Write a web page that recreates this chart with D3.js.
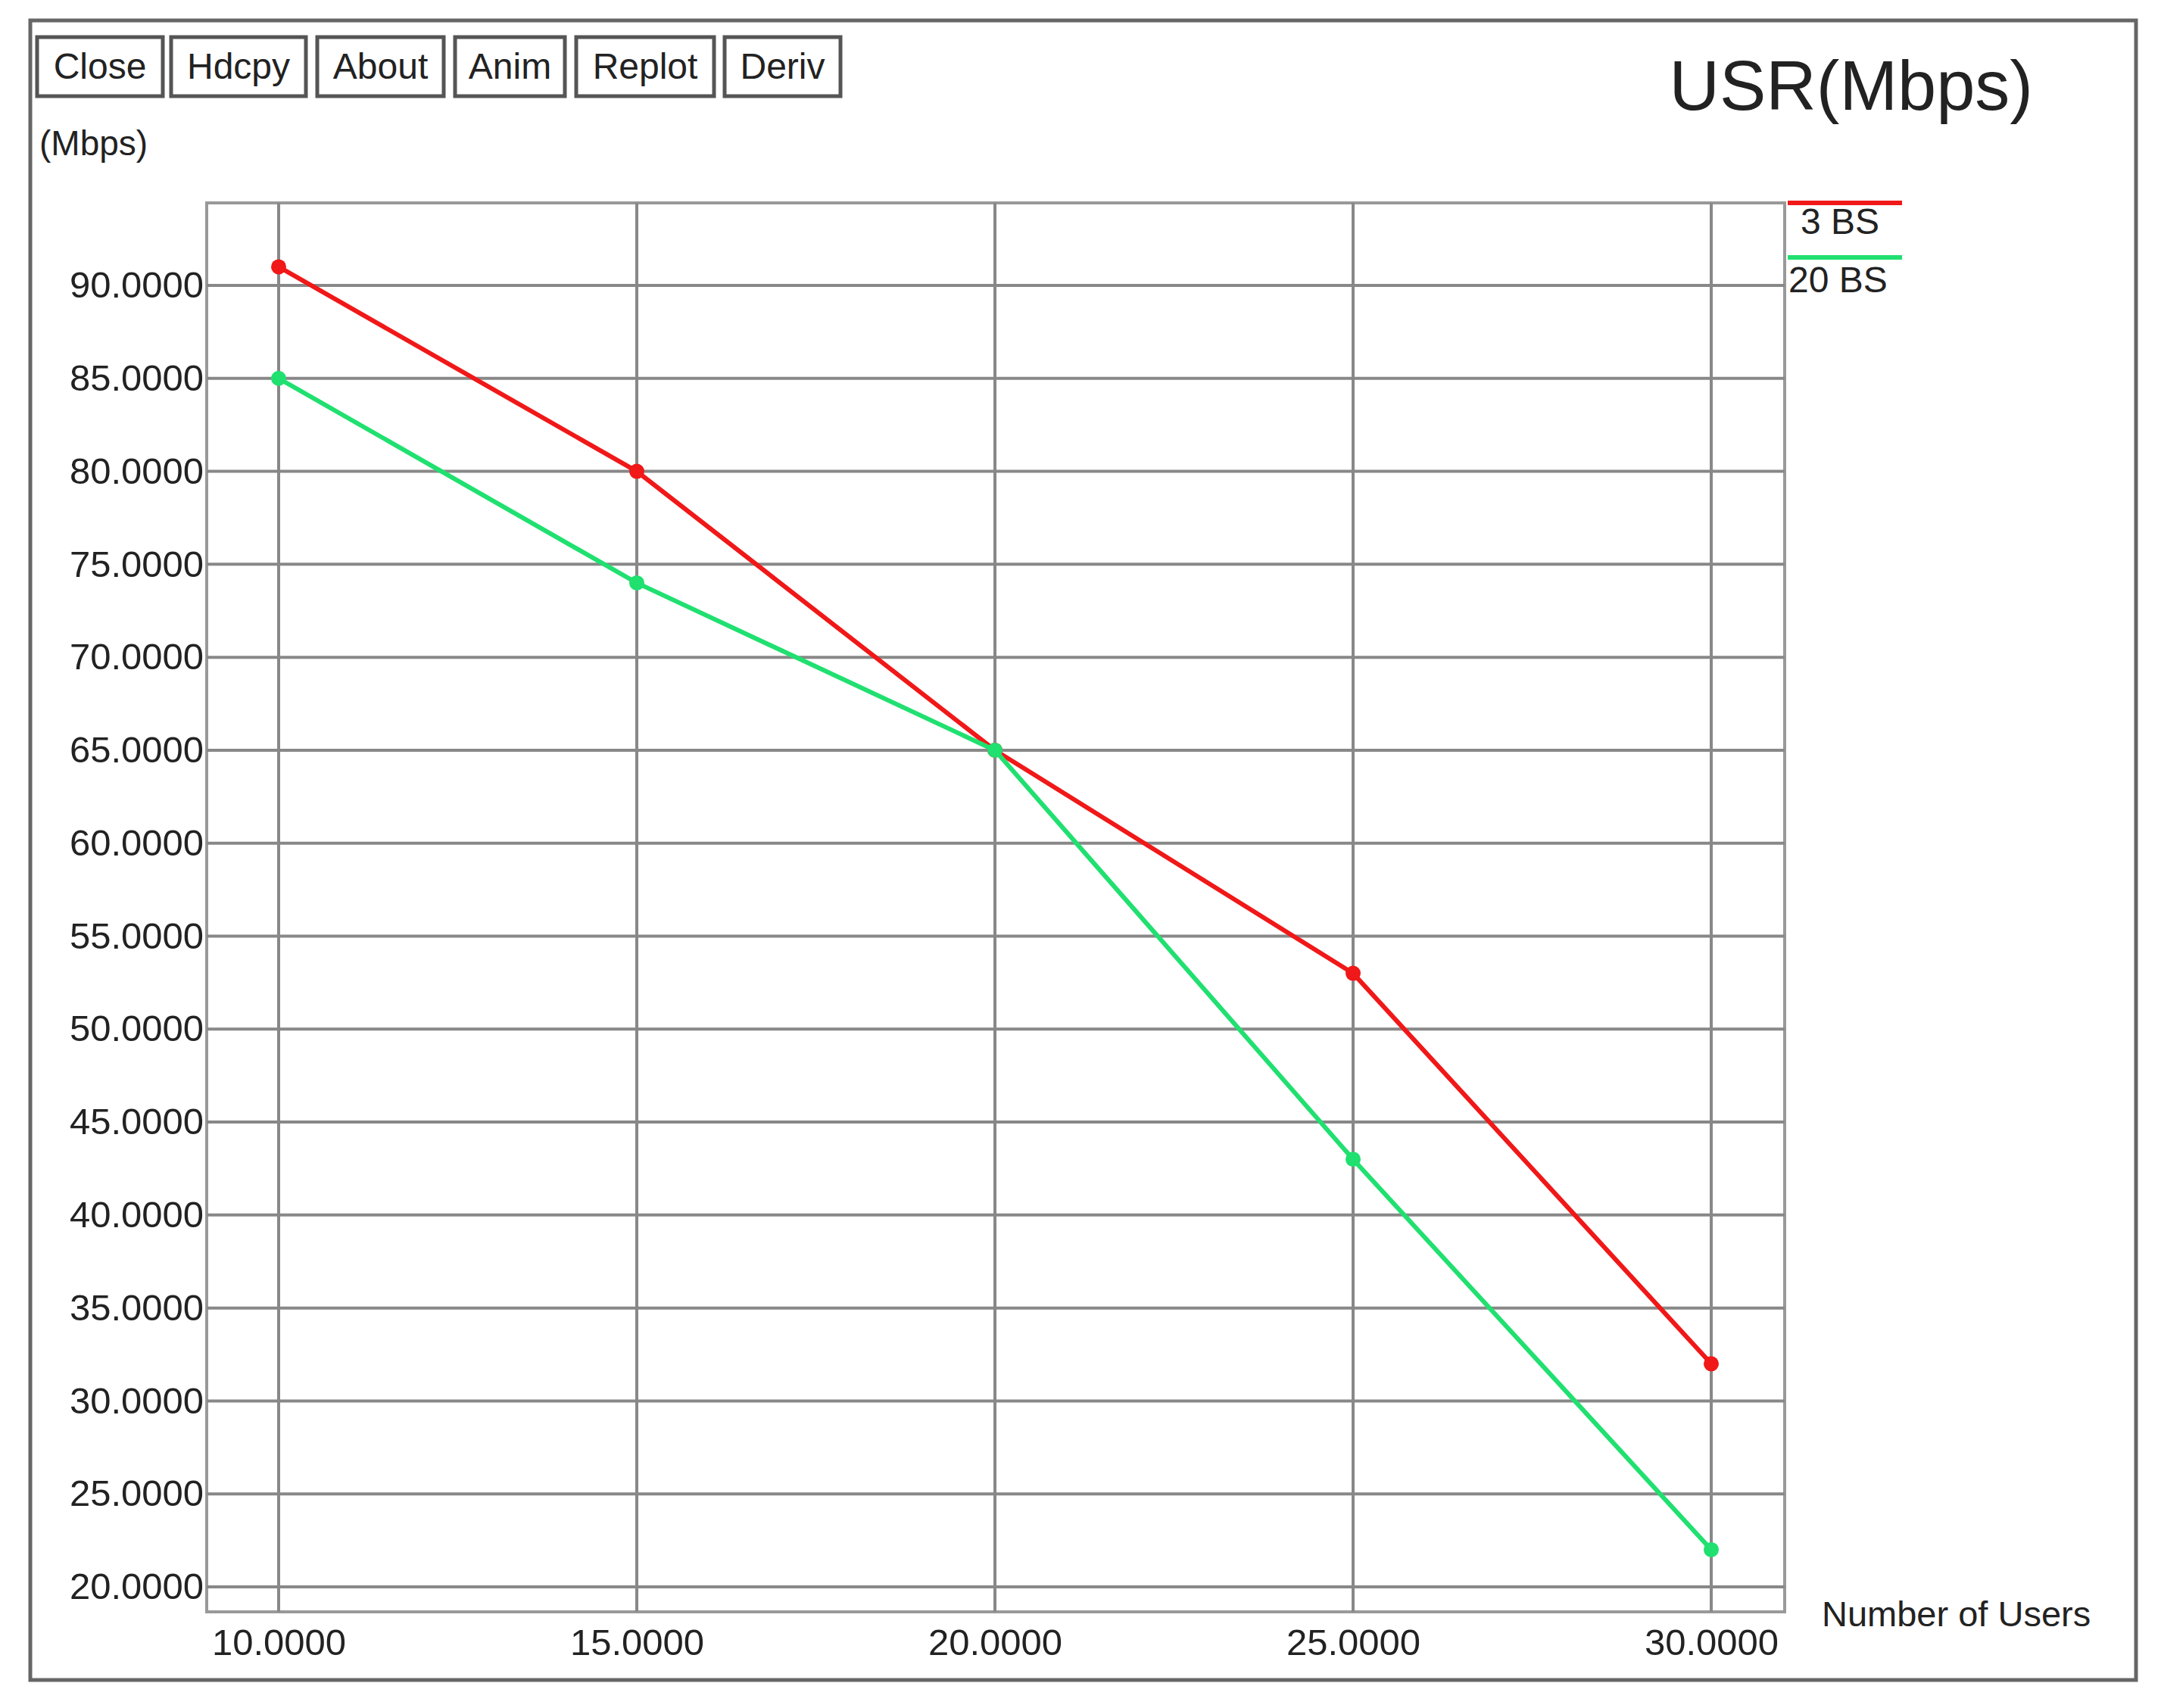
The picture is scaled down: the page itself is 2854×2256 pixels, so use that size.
<!DOCTYPE html>
<html>
<head>
<meta charset="utf-8">
<script src="https://cdn.jsdelivr.net/npm/d3@7"></script>
<style>
  body { margin: 0; background: #fff; }
  text { font-family: "Liberation Sans", Arial, sans-serif; fill: #222; }
</style>
</head>
<body>
<svg id="chart"></svg>
<script>
// data
const users = [10, 15, 20, 25, 30];
const bs3 = [91, 80, 65, 53, 32];
const bs20 = [85, 74, 65, 43, 22];
const seriesNames = ["3 BS", "20 BS"];
const seriesColors = ["#f01818", "#20e070"];
const yTicks = [20, 25, 30, 35, 40, 45, 50, 55, 60, 65, 70, 75, 80, 85, 90];
const xTicks = [10, 15, 20, 25, 30];
const buttons = ["Close", "Hdcpy", "About", "Anim", "Replot", "Deriv"];

const W = 2854, H = 2256;
const svg = d3.select("#chart").attr("width", W).attr("height", H);

// outer frame
svg.append("rect").attr("x", 40).attr("y", 27).attr("width", 2781).attr("height", 2192)
  .attr("fill", "none").attr("stroke", "#666").attr("stroke-width", 5);

// buttons
const btnX = [49, 226, 419, 601, 761, 957];
const btnW = [166, 178, 167, 145, 182, 153];
buttons.forEach((b, i) => {
  svg.append("rect").attr("x", btnX[i]).attr("y", 49).attr("width", btnW[i]).attr("height", 78)
    .attr("fill", "#fff").attr("stroke", "#555").attr("stroke-width", 5);
  svg.append("text").attr("x", btnX[i] + btnW[i] / 2).attr("y", 104)
    .attr("text-anchor", "middle").style("font-size", "48px").text(b);
});

svg.append("text").attr("x", 2685).attr("y", 145).attr("text-anchor", "end")
  .style("font-size", "92px").text("USR(Mbps)");
svg.append("text").attr("x", 52).attr("y", 205).style("font-size", "46px").text("(Mbps)");

// plot area
const L = 273, R = 2357, T = 268, B = 2129;
const x = d3.scaleLinear().domain([10, 30]).range([368, 2260]);
const y = d3.scaleLinear().domain([20, 90]).range([2096, 377]);

svg.append("rect").attr("x", L).attr("y", T).attr("width", R - L).attr("height", B - T)
  .attr("fill", "none").attr("stroke", "#999").attr("stroke-width", 4);

// grid
svg.append("g").selectAll("line").data(yTicks).join("line")
  .attr("x1", L).attr("x2", R).attr("y1", d => y(d)).attr("y2", d => y(d))
  .attr("stroke", "#888").attr("stroke-width", 4);
svg.append("g").selectAll("line").data(xTicks).join("line")
  .attr("y1", T).attr("y2", B).attr("x1", d => x(d)).attr("x2", d => x(d))
  .attr("stroke", "#888").attr("stroke-width", 4);

// axes labels
const yAxis = d3.axisLeft(y).tickValues(yTicks).tickSize(0).tickPadding(4)
  .tickFormat(d3.format(".4f"));
const gy = svg.append("g").attr("transform", `translate(${L},0)`).call(yAxis);
gy.select(".domain").remove();
gy.selectAll("text").style("font-size", "49px").style("font-family", "Liberation Sans, Arial, sans-serif").attr("fill", "#222");

const xAxis = d3.axisBottom(x).tickValues(xTicks).tickSize(0).tickPadding(22)
  .tickFormat(d3.format(".4f"));
const gx = svg.append("g").attr("transform", `translate(0,${B})`).call(xAxis);
gx.select(".domain").remove();
gx.selectAll("text").style("font-size", "49px").style("font-family", "Liberation Sans, Arial, sans-serif").attr("fill", "#222");

svg.append("text").attr("x", 2406).attr("y", 2148).style("font-size", "47px").text("Number of Users");

// series
const line = d3.line().x((d, i) => x(users[i])).y(d => y(d));
[bs3, bs20].forEach((s, k) => {
  svg.append("path").attr("d", line(s)).attr("fill", "none")
    .attr("stroke", seriesColors[k]).attr("stroke-width", 6);
  svg.append("g").selectAll("circle").data(s).join("circle")
    .attr("cx", (d, i) => x(users[i])).attr("cy", d => y(d)).attr("r", 10)
    .attr("fill", seriesColors[k]);
});

// legend
const legY = [268, 340], legText = [309, 386], legX = [2378, 2362];
seriesNames.forEach((n, k) => {
  svg.append("line").attr("x1", 2361).attr("x2", 2512).attr("y1", legY[k]).attr("y2", legY[k])
    .attr("stroke", seriesColors[k]).attr("stroke-width", 6);
  svg.append("text").attr("x", legX[k]).attr("y", legText[k]).style("font-size", "48px").text(n);
});
</script>
</body>
</html>
